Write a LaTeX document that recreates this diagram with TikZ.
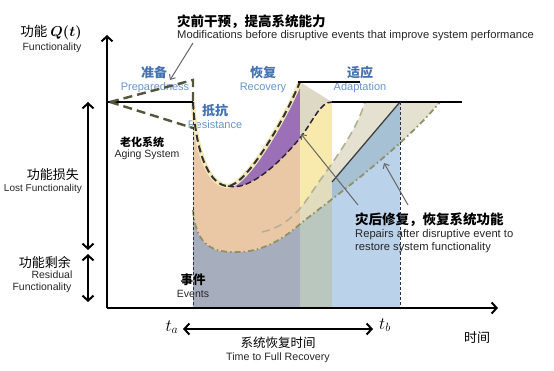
\documentclass[tikz,border=0pt]{standalone}
\usepackage{fontspec}
\setmainfont{Liberation Sans}
\newfontfamily\cjk{Noto Sans CJK SC}
\usepackage{bm}
\usetikzlibrary{arrows.meta}

\definecolor{slate}{RGB}{166,174,190}
\definecolor{sage}{RGB}{186,199,190}
\definecolor{skyfill}{RGB}{186,210,234}
\definecolor{steel}{RGB}{166,192,212}
\definecolor{peach}{RGB}{234,199,165}
\definecolor{lilac}{RGB}{156,112,182}
\definecolor{butter}{RGB}{248,233,172}
\definecolor{khaki}{RGB}{221,217,196}
\definecolor{cream}{RGB}{242,232,184}
\definecolor{olivedark}{RGB}{85,85,60}
\definecolor{olivelight}{RGB}{145,145,100}
\definecolor{navy}{RGB}{40,48,80}
\definecolor{phaseblue}{RGB}{68,114,178}
\definecolor{phaselight}{RGB}{104,148,204}

\tikzset{
  axisline/.style={line width=2pt, -{Straight Barb[length=5pt,width=11pt]}},
  spanline/.style={line width=2pt, {Straight Barb[length=5pt,width=11pt]}-{Straight Barb[length=5pt,width=11pt]}},
  levelline/.style={line width=2pt},
  prepdash/.style={olivedark, line width=2.4pt, dash pattern=on 9pt off 5pt},
  eventline/.style={navy, line width=0.9pt, dash pattern=on 3pt off 2pt},
  notearrow/.style={black!60, line width=1pt, -{Straight Barb[length=4pt,width=7pt]}},
  zh/.style={inner sep=0pt, font=\cjk\fontsize{13pt}{15pt}\selectfont},
  zhb/.style={inner sep=0pt, font=\cjk\bfseries\fontsize{13.5pt}{15pt}\selectfont},
  en/.style={inner sep=0pt, text=black!85, font=\fontsize{11.2pt}{13pt}\selectfont},
  ensmall/.style={inner sep=0pt, text=black!85, font=\fontsize{10.5pt}{12pt}\selectfont},
  phasezh/.style={inner sep=0pt, text=phaseblue, font=\cjk\bfseries\fontsize{13pt}{15pt}\selectfont},
  phaseen/.style={inner sep=0pt, text=phaselight, font=\fontsize{11pt}{12pt}\selectfont},
  tlabel/.style={inner sep=0pt, font=\fontsize{17pt}{17pt}\selectfont},
}

\begin{document}
\begin{tikzpicture}[x=1pt, y=-1pt]
\useasboundingbox (0,0) rectangle (554,370);

% regions
\fill[slate] (193,210) .. controls (196,248) and (215,253) .. (240,252)
  .. controls (268,251) and (290,233) .. (300,224) -- (300,308) -- (193,308) -- cycle;
\fill[peach] (193,102) .. controls (196,160) and (212,186) .. (228,186)
  .. controls (250,192) and (282,160) .. (300,138) -- (300,224)
  .. controls (290,233) and (268,251) .. (240,252)
  .. controls (215,253) and (196,248) .. (193,210) -- cycle;
\fill[lilac] (228,186) .. controls (245,186) and (282,125) .. (300,82) -- (300,138)
  .. controls (282,160) and (250,192) .. (228,186) -- cycle;
\fill[khaki] (300,82) -- (332,102) .. controls (320,102) and (314,120) .. (300,138) -- cycle;
\begin{scope}
  \clip (300,0) rectangle (332,370);
  \fill[butter] (300,138) .. controls (314,120) and (320,102) .. (332,102) -- (332,300) -- (300,300) -- cycle;
  \fill[sage] (300,224) .. controls (330,200) and (400,150) .. (440,102) -- (440,308) -- (300,308) -- cycle;
\end{scope}
\begin{scope}
  \clip (300,102) rectangle (470,308);
  \fill[khaki, opacity=0.8] (245,236) .. controls (275,232) and (295,218) .. (310,195)
    .. controls (330,165) and (355,135) .. (365,102) -- (440,102)
    .. controls (400,150) and (330,200) .. (300,224) -- cycle;
\end{scope}
\fill[skyfill] (332,182) -- (400,102) -- (400,308) -- (332,308) -- cycle;
\begin{scope}
  \clip (245,236) .. controls (275,232) and (295,218) .. (310,195)
    .. controls (330,165) and (355,135) .. (365,102) -- (440,102)
    .. controls (400,150) and (330,200) .. (300,224) -- cycle;
  \fill[steel] (332,182) -- (400,102) -- (400,308) -- (332,308) -- cycle;
\end{scope}

% labels
\node[zh, font=\cjk\fontsize{13.5pt}{15pt}\selectfont] (funcZh) at (51,33) {功能 $\bm{Q(t)}$};
\node[ensmall] (funcEn) at (52,48) {Functionality};
\node[zhb, anchor=west] (preZh) at (177,22) {灾前干预，提高系统能力};
\node[en, anchor=west] (preEn) at (177,36) {Modifications before disruptive events that improve system performance};
\node[phasezh] (prepZh) at (154,73) {准备};
\node[phaseen] (prepEn) at (155,88) {Preparedness};
\node[phasezh] (resZh) at (215,111) {抵抗};
\node[phaseen] (resEn) at (215,125) {Resistance};
\node[phasezh] (recZh) at (263,73) {恢复};
\node[phaseen] (recEn) at (263,88) {Recovery};
\node[phasezh] (adaZh) at (360,73) {适应};
\node[phaseen] (adaEn) at (360,88) {Adaptation};
\node[zhb, font=\cjk\bfseries\fontsize{11pt}{13pt}\selectfont] (agingZh) at (142,142) {老化系统};
\node[ensmall] (agingEn) at (147,155) {Aging System};
\node[zh] (lostZh) at (53,175) {功能损失};
\node[ensmall, font=\fontsize{10pt}{12pt}\selectfont, anchor=east] (lostEn) at (82,189) {Lost Functionality};
\node[zh] (resiZh) at (45,262) {功能剩余};
\node[ensmall] (resiEn) at (52,275) {Residual};
\node[ensmall] (resiEn2) at (42,288) {Functionality};
\node[zhb, font=\cjk\bfseries\fontsize{12.5pt}{14pt}\selectfont] (eventZh) at (193,280) {事件};
\node[ensmall] (eventEn) at (193,294) {Events};
\node[zhb, anchor=west] (repZh) at (355,220) {灾后修复，恢复系统功能};
\node[en, anchor=west] (repEn) at (355,235) {Repairs after disruptive event to};
\node[en, anchor=west] (repEn2) at (355,248) {restore system functionality};
\node[tlabel] (ta) at (172,327) {$t_a$};
\node[tlabel] (tb) at (385,325) {$t_b$};
\node[zh, font=\cjk\fontsize{12.5pt}{14pt}\selectfont] (fullZh) at (278,343) {系统恢复时间};
\node[ensmall, font=\fontsize{10.7pt}{12pt}\selectfont] (fullEn) at (278,358) {Time to Full Recovery};
\node[zh] (timeZh) at (477,338) {时间};

% recovery paths
\draw[cream, line width=4.5pt] (193,102) .. controls (196,160) and (212,186) .. (228,186)
  .. controls (245,186) and (282,125) .. (300,82);
\draw[black!80, line width=2pt, dash pattern=on 7pt off 4pt] (193,102) .. controls (196,160) and (212,186) .. (228,186)
  .. controls (245,186) and (282,125) .. (300,82);
\draw[black!70!lilac, line width=1.5pt, dash pattern=on 6pt off 3pt] (228,186) .. controls (250,192) and (282,160) .. (300,138)
  .. controls (314,120) and (320,102) .. (332,102);
\draw[olivelight!70, line width=1.6pt, dash pattern=on 8pt off 5pt] (262,232) .. controls (280,228) and (295,218) .. (310,195)
  .. controls (330,165) and (355,135) .. (365,102);
\draw[olivelight, line width=1.8pt, dash pattern=on 6pt off 3pt on 1.5pt off 3pt] (193,210) .. controls (196,248) and (215,253) .. (240,252)
  .. controls (268,251) and (290,233) .. (300,224) .. controls (330,200) and (400,150) .. (440,102);
\draw[black!75, line width=1.3pt] (332,182) -- (400,102);

% levels and events
\draw[levelline] (108,102) -- (193,102);
\draw[levelline] (298,82) -- (360,82);
\draw[levelline] (332,102) -- (462,102);
\draw[prepdash] (110,102) -- (193,80) -- (193,102);
\draw[prepdash] (110,102) -- (193,128);
\draw[eventline] (193,102) -- (193,308);
\draw[eventline] (400,102) -- (400,308);

% axes
\coordinate (O) at (107,308);
\coordinate (yTop) at (107,35);
\coordinate (xEnd) at (498,308);
\draw[axisline] (O) -- (yTop);
\draw[axisline] (O) -- (xEnd);
\coordinate (lostTop) at (88,102);
\coordinate (lostBot) at (88,250);
\coordinate (resiTop) at (88,254);
\coordinate (resiBot) at (88,302);
\draw[spanline] (lostTop) -- (lostBot);
\draw[spanline] (resiTop) -- (resiBot);
\coordinate (spanL) at (183,329);
\coordinate (spanR) at (373,329);
\draw[spanline] (spanL) -- (spanR);

% notes
\coordinate (preTail) at (193,43);
\coordinate (preTip) at (170,80);
\coordinate (repTailA) at (358,205);
\coordinate (repTipA) at (301,134);
\coordinate (repTailB) at (408,205);
\coordinate (repTipB) at (384,163);
\draw[notearrow] (preTail) -- (preTip);
\draw[notearrow] (repTailA) -- (repTipA);
\draw[notearrow] (repTailB) -- (repTipB);
\end{tikzpicture}
\end{document}
